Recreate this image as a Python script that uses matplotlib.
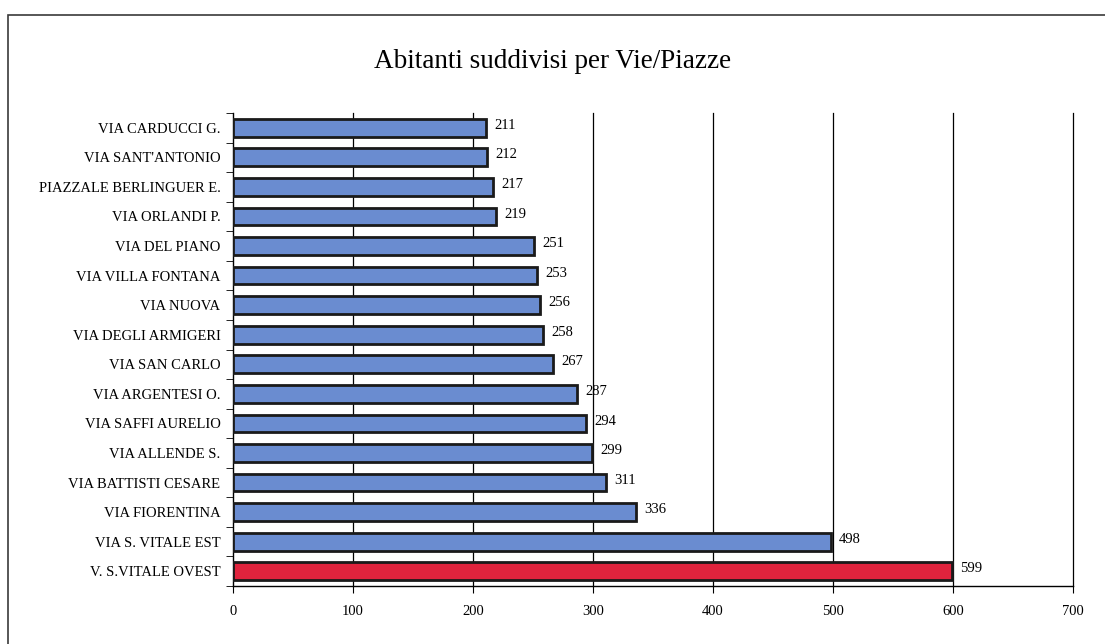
import matplotlib
matplotlib.use('Agg')
from matplotlib import pyplot as plt
from matplotlib.patches import Rectangle
import numpy as np

# --- DATA (top to bottom as shown) ---
streets = ['VIA CARDUCCI G.', "VIA SANT'ANTONIO", 'PIAZZALE BERLINGUER E.',
           'VIA ORLANDI P.', 'VIA DEL PIANO', 'VIA VILLA FONTANA', 'VIA NUOVA',
           'VIA DEGLI ARMIGERI', 'VIA SAN CARLO', 'VIA ARGENTESI O.',
           'VIA SAFFI AURELIO', 'VIA ALLENDE S.', 'VIA BATTISTI CESARE',
           'VIA FIORENTINA', 'VIA S. VITALE EST', 'V. S.VITALE OVEST']
inhabitants = [211, 212, 217, 219, 251, 253, 256, 258, 267, 287, 294, 299,
               311, 336, 498, 599]
highlight = 'V. S.VITALE OVEST'
x_ticks = [0, 100, 200, 300, 400, 500, 600, 700]

plt.rcParams['font.family'] = ['Liberation Serif', 'DejaVu Serif']

fig = plt.figure(figsize=(11.05, 6.44), dpi=100)
ax = fig.add_axes([233 / 1105, 1 - 586 / 644, 840 / 1105, 473 / 644])

# outer frame of the chart area
fig.add_artist(Rectangle((8 / 1105, -0.1), 1.1, 1 - 15 / 644 + 0.1,
                         transform=fig.transFigure, fill=False,
                         edgecolor='#3a3a3a', linewidth=1.2))

y = np.arange(len(streets))[::-1]
colors = ['#E0233D' if s == highlight else '#6A8CD0' for s in streets]
ax.barh(y, inhabitants, height=0.6, color=colors, edgecolor='#1a1a1a',
        linewidth=2, zorder=3)

for yy, v in zip(y, inhabitants):
    ax.text(v + 7, yy + 0.08, str(v), va='center', ha='left', fontsize=10.5, zorder=4)

ax.set_xlim(0, 700)
ax.set_ylim(-0.5, len(streets) - 0.5)
ax.set_xticks(x_ticks)
ax.set_xticklabels([str(t) for t in x_ticks], fontsize=10.5)
ax.tick_params(axis='x', length=5, pad=9)
for t in x_ticks[1:]:
    ax.axvline(t, color='black', linewidth=0.9, zorder=0, clip_on=False)

ax.set_yticks(y)
ax.set_yticklabels(streets, fontsize=10.5)
ax.tick_params(axis='y', length=0, pad=9)
ax.set_yticks(np.arange(-0.5, len(streets), 1.0), minor=True)
ax.tick_params(axis='y', which='minor', length=5)

for side in ['top', 'right']:
    ax.spines[side].set_visible(False)
ax.spines['left'].set_linewidth(1.0)
ax.spines['bottom'].set_linewidth(1.0)

fig.text(553 / 1105, 1 - 62 / 644, 'Abitanti suddivisi per Vie/Piazze',
         ha='center', va='center', fontsize=19.5)

plt.savefig('out.png', dpi=100)
